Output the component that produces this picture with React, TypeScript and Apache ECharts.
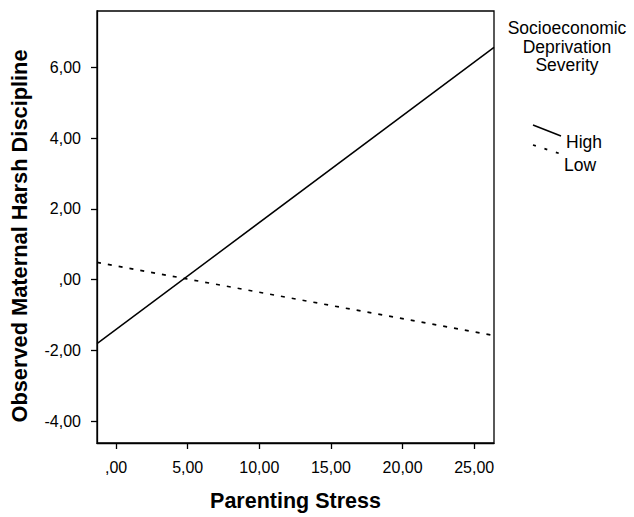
import React, { useEffect, useRef } from "react";
import * as echarts from "echarts";

const xRange = [-1.33, 26.38];
const yRange = [-4.62, 7.6];
const xTicks = [0, 5, 10, 15, 20, 25];
const yTicks = [-4, -2, 0, 2, 4, 6];
const highLine = [
  [-1.33, -1.81],
  [26.38, 6.57],
];
const lowLine = [
  [-1.33, 0.49],
  [26.38, -1.58],
];
const xTitle = "Parenting Stress";
const yTitle = "Observed Maternal Harsh Discipline";
const legendTitle = ["Socioeconomic", "Deprivation", "Severity"];
const legendNames = ["High", "Low"];

const FONT = "Arial, 'Liberation Sans', sans-serif";

const fmt = (v: number) => {
  const s = Math.abs(v).toFixed(2).replace(".", ",").replace(/^0/, "");
  return (v < 0 ? "-" : "") + s;
};

export default function App() {
  const ref = useRef<HTMLDivElement>(null);
  useEffect(() => {
    if (!ref.current) return;
    const chart = echarts.init(ref.current, null, { renderer: "svg" });
    chart.setOption({
      animation: false,
      backgroundColor: "#ffffff",
      grid: {
        left: 97,
        top: 11,
        right: 140,
        bottom: 68,
        show: true,
        borderColor: "#000",
        borderWidth: 1.3,
        containLabel: false,
      },
      xAxis: {
        type: "value",
        min: xRange[0],
        max: xRange[1],
        name: xTitle,
        nameLocation: "middle",
        nameGap: 47,
        nameTextStyle: { fontFamily: FONT, fontSize: 21.5, fontWeight: "bold", color: "#000" },
        axisLine: { show: true, onZero: false, lineStyle: { color: "#000", width: 1.3 } },
        axisTick: { show: true, length: 6, lineStyle: { color: "#000", width: 1.3 }, customValues: xTicks },
        axisLabel: {
          customValues: xTicks,
          formatter: fmt,
          fontFamily: FONT,
          fontSize: 16,
          color: "#000",
          margin: 16,
        },
        splitLine: { show: false },
      },
      yAxis: {
        type: "value",
        min: yRange[0],
        max: yRange[1],
        axisLine: { show: true, onZero: false, lineStyle: { color: "#000", width: 1.3 } },
        axisTick: { show: true, length: 6, lineStyle: { color: "#000", width: 1.3 }, customValues: yTicks },
        axisLabel: {
          customValues: yTicks,
          formatter: fmt,
          fontFamily: FONT,
          fontSize: 16,
          color: "#000",
          margin: 16,
        },
        splitLine: { show: false },
      },
      series: [
        {
          name: legendNames[0],
          type: "line",
          data: highLine,
          showSymbol: false,
          lineStyle: { color: "#000", width: 1.5, type: "solid" },
        },
        {
          name: legendNames[1],
          type: "line",
          data: lowLine,
          showSymbol: false,
          lineStyle: { color: "#000", width: 1.7, type: [4, 7] },
        },
      ],
      graphic: [
        {
          type: "text",
          x: 19,
          y: 236,
          rotation: Math.PI / 2,
          style: {
            text: yTitle,
            fontFamily: FONT,
            fontSize: 21.8,
            fontWeight: "bold",
            fill: "#000",
            textAlign: "center",
            textVerticalAlign: "middle",
          },
        },
        ...legendTitle.map((t, i) => ({
          type: "text",
          x: 567,
          y: 28 + i * 18.5,
          style: {
            text: t,
            fontFamily: FONT,
            fontSize: 17.5,
            fill: "#000",
            textAlign: "center",
            textVerticalAlign: "middle",
          },
        })),
        {
          type: "line",
          shape: { x1: 533, y1: 125, x2: 561, y2: 136 },
          style: { stroke: "#000", lineWidth: 1.5 },
        },
        {
          type: "line",
          shape: { x1: 533, y1: 145, x2: 561, y2: 154 },
          style: { stroke: "#000", lineWidth: 1.7, lineDash: [3, 9] },
        },
        {
          type: "text",
          x: 566,
          y: 142,
          style: {
            text: legendNames[0],
            fontFamily: FONT,
            fontSize: 17.5,
            fill: "#000",
            textAlign: "left",
            textVerticalAlign: "middle",
          },
        },
        {
          type: "text",
          x: 564,
          y: 165,
          style: {
            text: legendNames[1],
            fontFamily: FONT,
            fontSize: 17.5,
            fill: "#000",
            textAlign: "left",
            textVerticalAlign: "middle",
          },
        },
      ],
    });
    return () => chart.dispose();
  }, []);
  return (
    <div
      ref={ref}
      style={{ position: "fixed", left: 0, top: 0, width: 634, height: 517, background: "#fff" }}
    />
  );
}
